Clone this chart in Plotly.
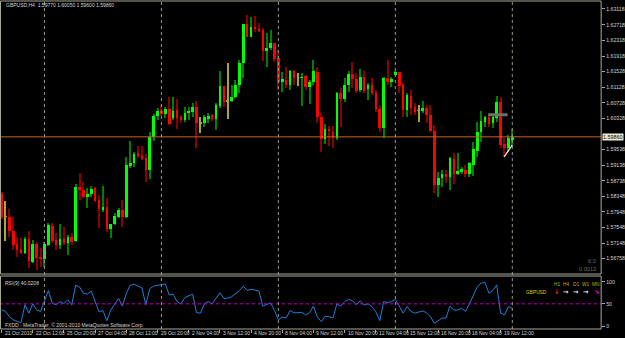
import plotly.graph_objects as go

# ---------------- data ----------------
symbol_header = "GBPUSD,H4  1.59770 1.60050 1.59600 1.59860"

opens = [1.5840,1.5782,1.5782,1.5747,1.5713,1.5700,1.5690,1.5726,1.5667,1.5713,
         1.5680,1.5675,1.5710,1.5759,1.5723,1.5710,1.5726,1.5716,1.5731,1.5721,
         1.5858,1.5851,1.5833,1.5840,1.5856,1.5825,1.5800,1.5807,1.5751,1.5764,
         1.5782,1.5800,1.5782,1.5914,1.5919,1.5945,1.5937,1.5932,1.5902,1.5986,
         1.6039,1.6052,1.6044,1.6057,1.6034,1.6054,1.6037,1.6029,1.6047,1.6049,
         1.6062,1.6021,1.6021,1.6034,1.6042,1.6031,1.6065,1.6116,1.6077,1.6077,
         1.6088,1.6118,1.6174,1.6274,1.6240,1.6266,1.6261,1.6258,1.6205,1.6212,
         1.6225,1.6187,1.6126,1.6131,1.6118,1.6154,1.6136,1.6136,1.6141,1.6113,
         1.6126,1.6151,1.6037,1.5981,1.6006,1.5999,1.5983,1.6098,1.6082,1.6118,
         1.6146,1.6133,1.6105,1.6138,1.6108,1.6118,1.6098,1.6057,1.6009,1.6136,
         1.6126,1.6146,1.6151,1.6118,1.6054,1.6090,1.6062,1.6052,1.6052,1.6059,
         1.6042,1.6001,1.5863,1.5881,1.5891,1.5884,1.5930,1.5891,1.5896,1.5902,
         1.5891,1.5914,1.5950,1.5998,1.6024,1.6037,1.6021,1.6034,1.6075,1.5967,
         1.5957,1.5977]
highs = [1.5846,1.5823,1.5802,1.5782,1.5731,1.5728,1.5731,1.5746,1.5723,1.5718,
         1.5703,1.5718,1.5767,1.5767,1.5741,1.5764,1.5756,1.5736,1.5741,1.5866,
         1.5894,1.5871,1.5856,1.5861,1.5858,1.5838,1.5861,1.5830,1.5764,1.5792,
         1.5805,1.5825,1.5935,1.5975,1.5947,1.5963,1.5963,1.5942,1.5998,1.6045,
         1.6060,1.6066,1.6062,1.6087,1.6087,1.6082,1.6042,1.6062,1.6062,1.6072,
         1.6077,1.6037,1.6042,1.6047,1.6044,1.6072,1.6154,1.6116,1.6174,1.6118,
         1.6131,1.6182,1.6274,1.6296,1.6291,1.6294,1.6276,1.6263,1.6251,1.6258,
         1.6225,1.6207,1.6151,1.6164,1.6156,1.6156,1.6149,1.6149,1.6144,1.6131,
         1.6182,1.6164,1.6047,1.6019,1.6014,1.6014,1.6100,1.6110,1.6136,1.6154,
         1.6177,1.6149,1.6159,1.6154,1.6123,1.6136,1.6105,1.6067,1.6138,1.6182,
         1.6138,1.6154,1.6151,1.6123,1.6098,1.6105,1.6072,1.6067,1.6077,1.6067,
         1.6067,1.6016,1.5896,1.5902,1.5902,1.5935,1.5945,1.5945,1.5909,1.5914,
         1.5922,1.5973,1.6024,1.6052,1.6039,1.6039,1.6039,1.6090,1.6087,1.5983,
         1.5991,1.6005]
lows =  [1.5777,1.5721,1.5731,1.5698,1.5680,1.5688,1.5688,1.5652,1.5665,1.5647,
         1.5654,1.5654,1.5708,1.5716,1.5698,1.5700,1.5710,1.5685,1.5710,1.5718,
         1.5825,1.5830,1.5805,1.5833,1.5820,1.5754,1.5795,1.5744,1.5728,1.5761,
         1.5779,1.5756,1.5779,1.5907,1.5909,1.5932,1.5927,1.5871,1.5879,1.5975,
         1.6030,1.6040,1.6035,1.6016,1.6029,1.6006,1.6021,1.6024,1.6029,1.6037,
         1.5957,1.5995,1.6011,1.6021,1.6026,1.6003,1.6059,1.6062,1.6032,1.6075,
         1.6085,1.6098,1.6136,1.6240,1.6240,1.6253,1.6253,1.6180,1.6164,1.6207,
         1.6177,1.6105,1.6100,1.6110,1.6105,1.6118,1.6116,1.6065,1.6105,1.6070,
         1.6118,1.6021,1.5947,1.5968,1.5963,1.5957,1.5978,1.6011,1.6075,1.6100,
         1.6110,1.6098,1.6100,1.6098,1.6080,1.6093,1.6049,1.5998,1.5983,1.6118,
         1.6113,1.6144,1.6098,1.6037,1.6037,1.6042,1.6042,1.6024,1.6047,1.6021,
         1.5998,1.5843,1.5833,1.5859,1.5868,1.5851,1.5866,1.5889,1.5891,1.5884,
         1.5884,1.5886,1.5935,1.5973,1.6011,1.6011,1.6009,1.6024,1.5957,1.5935,
         1.5947,1.5960]
closes = [1.5782,1.5782,1.5746,1.5710,1.5698,1.5690,1.5726,1.5670,1.5713,1.5677,
          1.5675,1.5713,1.5761,1.5721,1.5710,1.5726,1.5716,1.5731,1.5718,1.5858,
          1.5851,1.5833,1.5840,1.5853,1.5823,1.5802,1.5807,1.5751,1.5764,1.5784,
          1.5800,1.5782,1.5914,1.5919,1.5942,1.5937,1.5932,1.5902,1.5986,1.6039,
          1.6052,1.6044,1.6057,1.6019,1.6052,1.6034,1.6029,1.6047,1.6052,1.6062,
          1.6021,1.6021,1.6037,1.6039,1.6031,1.6067,1.6116,1.6075,1.6077,1.6088,
          1.6118,1.6174,1.6274,1.6240,1.6266,1.6261,1.6256,1.6205,1.6212,1.6225,
          1.6184,1.6126,1.6133,1.6118,1.6154,1.6136,1.6136,1.6138,1.6113,1.6126,
          1.6154,1.6037,1.5981,1.6006,1.6001,1.5983,1.6098,1.6082,1.6118,1.6146,
          1.6133,1.6103,1.6138,1.6103,1.6118,1.6098,1.6057,1.6009,1.6136,1.6126,
          1.6133,1.6151,1.6116,1.6054,1.6093,1.6059,1.6049,1.6052,1.6059,1.6042,
          1.6001,1.5863,1.5881,1.5891,1.5884,1.5932,1.5891,1.5899,1.5904,1.5891,
          1.5919,1.5955,1.5998,1.6026,1.6037,1.6019,1.6037,1.6075,1.5965,1.5957,
          1.5983,1.5986]

rsi_values = [36,33,21,14,10,8,48,29,50,36,
              33,59,80,51,48,55,51,59,48,92,
              88,74,72,79,55,32,35,12,36,50,
              62,45,74,92,94,90,86,48,84,90,
              92,94,95,70,72,55,50,64,68,72,
              30,29,50,55,50,62,75,62,63,66,
              72,80,90,80,83,81,79,45,48,52,
              35,14,20,18,35,30,30,31,25,30,
              45,20,10,22,21,18,50,45,55,60,
              57,48,57,47,50,44,32,12,55,53,
              55,60,45,29,44,33,29,31,34,30,
              21,6,12,18,18,45,36,36,40,33,
              50,70,88,97,98,74,80,93,29,25,
              44,40]

price_ticks = [1.63118,1.62718,1.62318,1.61918,1.61528,1.61128,1.60728,1.60328,
               1.59538,1.59138,1.58738,1.58348,1.57948,1.57548,1.57148,1.56758,1.56358]
current_price = 1.59860
rsi_label = "RSI(9) 40.0208"
rsi_ticks = [0, 50, 100]

time_labels = ["21 Oct 2010","22 Oct 12:00","25 Oct 20:00","27 Oct 04:00","28 Oct 12:00",
               "29 Oct 20:00","2 Nov 04:00","3 Nov 12:00","4 Nov 20:00","8 Nov 04:00",
               "9 Nov 12:00","10 Nov 20:00","12 Nov 04:00","15 Nov 12:00","16 Nov 20:00",
               "18 Nov 04:00","19 Nov 12:00"]
time_label_bars = [0,8,16,24,32,40,48,56,64,72,80,88,96,104,112,120,128]
week_start_bars = [11,41,71,101,131]

pivot_bars = [124.8, 129.8]
pivot_prices = [1.6042, 1.6042]
slash_bars = [128.9, 131.0]
slash_prices = [1.5935, 1.5965]

mtf_frames = ["H1","H4","D1","W1","MN"]
mtf_arrows = ["↓","→","→","→","↘"]
mtf_colors = ["#ff2020","#e8e8e8","#e8e8e8","#e8e8e8","#ff00ff"]

# ---------------- geometry helpers ----------------
W, H = 625, 338
BAR_PX, FIRST_PX = 3.93, 1.6
PLOT_RIGHT = 606
def fy(py):
    return (H - py) / H

x_range = [-FIRST_PX / BAR_PX, (PLOT_RIGHT - FIRST_PX) / BAR_PX]
PPX = 0.0002548
main_top_px, main_bot_px = 1, 274
y_range = [1.63347 - main_bot_px * PPX, 1.63347 - main_top_px * PPX]
rsi_top_px, rsi_bot_px = 276, 329
rsi_per_px = 0.443
rsi_range = [(326 - rsi_bot_px) / rsi_per_px, (326 - rsi_top_px) / rsi_per_px]

n = len(closes)
bars = list(range(n))

BULL, BEAR, DOJI = "#00ff00", "#ff0000", "#a8a830"
BULL_W, BEAR_W = "#008000", "#8b0000"

body_col, wick_col, body_base, body_h = [], [], [], []
for o, c in zip(opens, closes):
    if abs(c - o) < 0.00005:
        body_col.append(DOJI); wick_col.append(DOJI)
    elif c > o:
        body_col.append(BULL); wick_col.append(BULL_W)
    else:
        body_col.append(BEAR); wick_col.append(BEAR_W)
    body_base.append(min(o, c))
    body_h.append(max(abs(c - o), 0.00018))

fig = go.Figure()
fig.add_trace(go.Bar(x=bars, y=[h - l for h, l in zip(highs, lows)], base=lows,
                     width=0.27, marker=dict(color=wick_col, line=dict(width=0)),
                     xaxis="x", yaxis="y", hoverinfo="skip"))
fig.add_trace(go.Bar(x=bars, y=body_h, base=body_base, width=0.66,
                     marker=dict(color=body_col, line=dict(width=0)),
                     xaxis="x", yaxis="y", hoverinfo="skip"))
fig.add_trace(go.Scatter(x=pivot_bars, y=pivot_prices, mode="lines",
                         line=dict(color="#6e6e6e", width=3), xaxis="x", yaxis="y"))
fig.add_trace(go.Scatter(x=slash_bars, y=slash_prices, mode="lines",
                         line=dict(color="#f4e8f0", width=1.2), xaxis="x", yaxis="y"))
fig.add_trace(go.Scatter(x=bars, y=rsi_values, mode="lines",
                         line=dict(color="#1e7fd8", width=1), xaxis="x2", yaxis="y2"))

shapes = []
shapes.append(dict(type="line", xref="x domain", x0=0, x1=1, yref="y", y0=current_price,
                   y1=current_price, line=dict(color="#c8642a", width=1)))
shapes.append(dict(type="line", xref="x2 domain", x0=0, x1=1, yref="y2", y0=50, y1=50,
                   line=dict(color="#c000c0", width=1, dash="dot")))
for b in week_start_bars:
    shapes.append(dict(type="line", xref="x", x0=b, x1=b, yref="paper",
                       y0=fy(rsi_bot_px), y1=fy(main_top_px),
                       line=dict(color="#9a9a88", width=1, dash="dot")))
frame_col = "#a8a898"
shapes.append(dict(type="rect", xref="paper", yref="paper", x0=0.5 / W, x1=PLOT_RIGHT / W,
                   y0=fy(main_bot_px), y1=fy(main_top_px), line=dict(color=frame_col, width=1)))
shapes.append(dict(type="rect", xref="paper", yref="paper", x0=0.5 / W, x1=PLOT_RIGHT / W,
                   y0=fy(rsi_bot_px), y1=fy(rsi_top_px), line=dict(color=frame_col, width=1)))

FONT = "Liberation Sans, Arial"
font_small = dict(family=FONT, size=5.0, color="#d4d4d4")
ann = []
ann.append(dict(text=symbol_header, xref="paper", yref="paper", x=4 / W, y=fy(5),
                xanchor="left", yanchor="middle", showarrow=False, font=font_small))
ann.append(dict(text=rsi_label, xref="paper", yref="paper", x=3 / W, y=fy(283),
                xanchor="left", yanchor="middle", showarrow=False, font=font_small))
ann.append(dict(text="FXDD - MetaTrader, © 2001-2010 MetaQuotes Software Corp.",
                xref="paper", yref="paper", x=3 / W, y=fy(325), xanchor="left",
                yanchor="middle", showarrow=False, font=font_small))
ann.append(dict(text="6.0", xref="paper", yref="paper", x=603 / W, y=fy(261),
                xanchor="right", yanchor="middle", showarrow=False,
                font=dict(family=FONT, size=5.6, color="#6a6a6a")))
ann.append(dict(text="0.0013", xref="paper", yref="paper", x=603 / W, y=fy(269),
                xanchor="right", yanchor="middle", showarrow=False,
                font=dict(family=FONT, size=5.6, color="#6a6a6a")))
ann.append(dict(text="1.59860", xref="paper", yref="y", x=607 / W, y=current_price,
                xanchor="left", yanchor="middle", showarrow=False, bgcolor="#ecebd2",
                borderpad=0, font=dict(family=FONT, size=5.4, color="#000000")))
for lab, b in zip(time_labels, time_label_bars):
    ann.append(dict(text=lab, xref="x2", yref="paper", x=b, y=fy(333), xanchor="left",
                    xshift=1, yanchor="middle", showarrow=False, font=font_small))
mtf_x = [561, 571, 581, 591, 601]
for fr, ar, col, px in zip(mtf_frames, mtf_arrows, mtf_colors, mtf_x):
    ann.append(dict(text=fr, xref="paper", yref="paper", x=px / W, y=fy(284),
                    xanchor="center", yanchor="middle", showarrow=False,
                    font=dict(family=FONT, size=4.8, color="#b8b020")))
    ann.append(dict(text="<b>" + ar + "</b>", xref="paper", yref="paper", x=px / W, y=fy(292),
                    xanchor="center", yanchor="middle", showarrow=False,
                    font=dict(family="DejaVu Sans", size=6.5, color=col)))
ann.append(dict(text="GBPUSD", xref="paper", yref="paper", x=553 / W, y=fy(292),
                xanchor="right", yanchor="middle", showarrow=False,
                font=dict(family=FONT, size=4.8, color="#d8d000")))

axis_font = dict(family=FONT, size=5.2, color="#d4d4d4")
fig.update_layout(
    width=W, height=H, margin=dict(l=0, r=0, t=0, b=0),
    paper_bgcolor="#000000", plot_bgcolor="#000000",
    showlegend=False, barmode="overlay", bargap=0,
    xaxis=dict(domain=[0, PLOT_RIGHT / W], range=x_range, showgrid=False, zeroline=False,
               showticklabels=False, ticks="", anchor="y"),
    yaxis=dict(domain=[fy(main_bot_px), fy(main_top_px)], range=y_range, side="right",
               anchor="x", tickvals=price_ticks, ticktext=[f"{v:.5f}" for v in price_ticks],
               ticks="outside", ticklen=3, tickcolor=frame_col, showgrid=False,
               zeroline=False, tickfont=axis_font, showline=False),
    xaxis2=dict(domain=[0, PLOT_RIGHT / W], range=x_range, anchor="y2", showgrid=False,
                zeroline=False, showticklabels=False, tickvals=time_label_bars,
                ticks="outside", ticklen=3, tickcolor=frame_col, showline=False),
    yaxis2=dict(domain=[fy(rsi_bot_px), fy(rsi_top_px)], range=rsi_range, side="right",
                anchor="x2", tickvals=rsi_ticks, ticks="outside", ticklen=3,
                tickcolor=frame_col, showgrid=False, zeroline=False, tickfont=axis_font),
    shapes=shapes, annotations=ann,
)
fig.write_html("out.html")
